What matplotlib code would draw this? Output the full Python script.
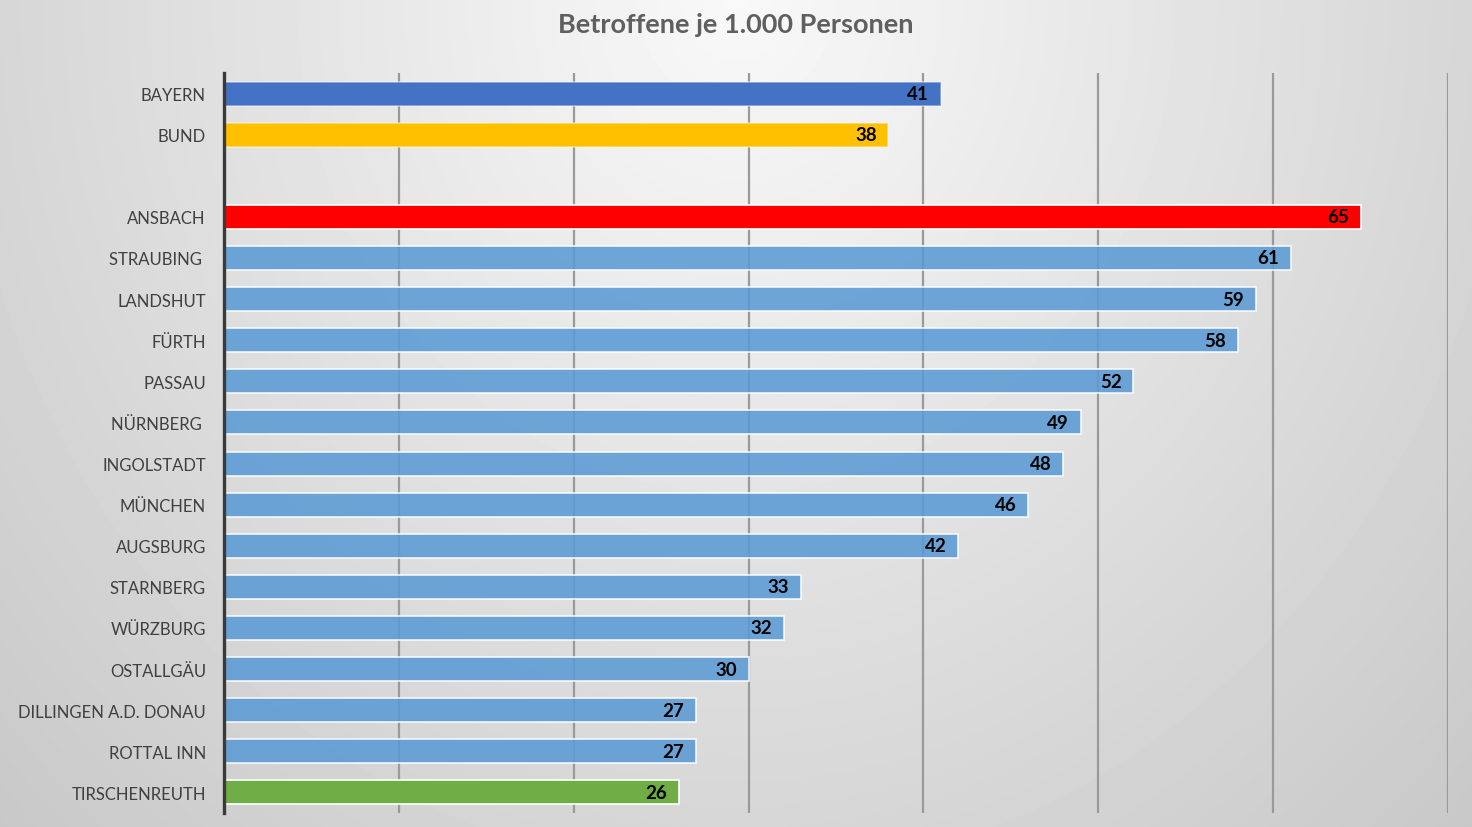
import numpy as np
import matplotlib
matplotlib.use("Agg")
import matplotlib.pyplot as plt

# ---- data ----
top_labels = ["BAYERN", "BUND"]
top_values = [41, 38]
top_colors = ["#4472C4", "#FFC000"]

region_labels = ["ANSBACH", "STRAUBING ", "LANDSHUT", "FÜRTH", "PASSAU", "NÜRNBERG ",
                 "INGOLSTADT", "MÜNCHEN", "AUGSBURG", "STARNBERG", "WÜRZBURG",
                 "OSTALLGÄU", "DILLINGEN A.D. DONAU", "ROTTAL INN", "TIRSCHENREUTH"]
region_values = [65, 61, 59, 58, 52, 49, 48, 46, 42, 33, 32, 30, 27, 27, 26]

title_text = "Betroffene je 1.000 Personen"
x_max = 70
x_grid = [10, 20, 30, 40, 50, 60, 70]

FONT = ["Lato", "DejaVu Sans"]

fig = plt.figure(figsize=(14.72, 8.28), dpi=100)

# background gradient
bg = fig.add_axes([0, 0, 1, 1], zorder=-10)
H, W = 828, 1472
yy, xx = np.mgrid[0:H, 0:W]
d = np.sqrt(((xx - 736) / 736.0) ** 2 + (yy / 828.0) ** 2)
val = np.clip(0.975 - 0.135 * d, 0, 1)
bg.imshow(val, cmap="gray", vmin=0, vmax=1, aspect="auto", extent=[0, 1, 0, 1], origin="upper")
bg.axis("off")

ax = fig.add_axes([224 / 1472, 1 - 814 / 828, (1448 - 224) / 1472, (814 - 74) / 828])
ax.patch.set_alpha(0)

labels = top_labels + [""] + region_labels
n = len(labels)
positions = list(range(n))
top_pos = positions[:len(top_labels)]
reg_pos = positions[len(top_labels) + 1:]

bar_h = 0.585
for p, v, c in zip(top_pos, top_values, top_colors):
    ax.barh(p, v, height=bar_h, color=c, edgecolor=(1, 1, 1, 0.45), linewidth=1.2, zorder=3)

for i, (p, v) in enumerate(zip(reg_pos, region_values)):
    if i == 0:
        col, a = "#FF0000", 1.0
    elif i == len(region_values) - 1:
        col, a = "#70AD47", 1.0
    else:
        col, a = "#5B9BD5", 0.88
    ax.barh(p, v, height=bar_h, color=col, alpha=a, edgecolor=(1, 1, 1, 0.45), linewidth=1.2, zorder=3)

all_vals = top_values + [None] + region_values
for p, v in zip(positions, all_vals):
    if v is None:
        continue
    ax.annotate(f"{v}", xy=(v, p), xytext=(-8.5, 0), textcoords="offset points",
                ha="right", va="center", fontsize=13.5, fontweight="bold",
                color="black", family=FONT, zorder=5)

ax.set_xlim(0, x_max)
ax.set_ylim(n - 0.5, -0.5)
for g in x_grid:
    ax.axvline(g, color="#9A9A9A", linewidth=1.6, zorder=2)

ax.set_yticks([p for p, l in zip(positions, labels) if l])
ax.set_yticklabels([l for l in labels if l], fontsize=12, color="#404040", family=FONT)
ax.tick_params(axis="y", length=0, pad=13)
ax.set_xticks([])
for s in ["top", "right", "bottom"]:
    ax.spines[s].set_visible(False)
ax.spines["left"].set_color("#3A3A3A")
ax.spines["left"].set_linewidth(2.4)
ax.spines["left"].set_zorder(6)

fig.text(0.5, 1 - 25 / 828, title_text, ha="center", va="center", fontsize=19.5,
         fontweight="bold", color="#5F5F5F", family=FONT)

fig.savefig("out.png", dpi=100)
